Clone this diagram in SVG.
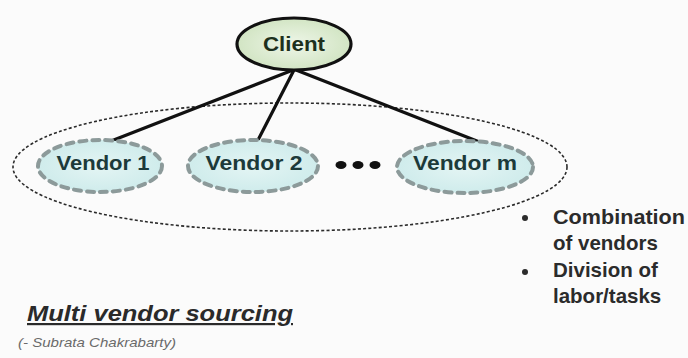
<svg xmlns="http://www.w3.org/2000/svg" width="688" height="358" viewBox="0 0 688 358">
  <defs>
    <radialGradient id="clientFill" cx="50%" cy="50%" r="55%">
      <stop offset="0" stop-color="#eef6e8"/>
      <stop offset="1" stop-color="#cfe3c0"/>
    </radialGradient>
    <radialGradient id="vendorFill" cx="50%" cy="50%" r="60%">
      <stop offset="0" stop-color="#e4f5f4"/>
      <stop offset="1" stop-color="#cbeaea"/>
    </radialGradient>
  </defs>
  <style>
    .bg { fill: #fbfbfb; }
    .group-ring { fill: none; stroke: #2a2a2a; stroke-width: 1.6; stroke-dasharray: 3 2.2; }
    .link { stroke: #111; stroke-width: 3.2; stroke-linecap: round; }
    .client-shape { fill: url(#clientFill); stroke: #111; stroke-width: 3.2; }
    .vendor-shape { fill: url(#vendorFill); stroke: #8c9a9a; stroke-width: 4; stroke-dasharray: 7 6; stroke-linecap: round; }
    .node-label { font-family: "Liberation Sans", Arial, sans-serif; font-weight: bold; font-size: 20px; text-anchor: middle; }
    .client-label { fill: #1d301d; font-size: 21px; }
    .vendor-label { fill: #1c3a3a; }
    .more { fill: #111; }
    .note { font-family: "Liberation Sans", Arial, sans-serif; font-weight: bold; font-size: 20.5px; fill: #2b2b2b; }
    .bullet { fill: #2b2b2b; }
    .title { font-family: "Liberation Sans", Arial, sans-serif; font-weight: bold; font-style: italic; font-size: 22px; fill: #2a2a2a; text-decoration: underline; }
    .credit { font-family: "Liberation Sans", Arial, sans-serif; font-style: italic; font-size: 13px; fill: #6a6a6a; }
  </style>

  <rect class="bg" x="0" y="0" width="688" height="358"/>

  <!-- dotted ring grouping the vendors -->
  <ellipse class="group-ring" cx="290" cy="167" rx="277" ry="64"/>

  <!-- connectors from the client to each vendor -->
  <g id="connectors">
    <line class="link" x1="293" y1="70" x2="106" y2="143"/>
    <line class="link" x1="294" y1="70" x2="257" y2="142"/>
    <line class="link" x1="296" y1="70" x2="482" y2="143"/>
  </g>

  <g id="client">
    <ellipse class="client-shape" cx="294" cy="44" rx="57" ry="26"/>
    <text class="node-label client-label" x="294" y="51" textLength="62" lengthAdjust="spacingAndGlyphs">Client</text>
  </g>

  <g id="vendor-1">
    <ellipse class="vendor-shape" cx="100" cy="166" rx="62" ry="26"/>
    <text class="node-label vendor-label" x="103" y="170" textLength="93" lengthAdjust="spacingAndGlyphs">Vendor 1</text>
  </g>

  <g id="vendor-2">
    <ellipse class="vendor-shape" cx="253" cy="166" rx="65" ry="26"/>
    <text class="node-label vendor-label" x="254" y="170" textLength="97" lengthAdjust="spacingAndGlyphs">Vendor 2</text>
  </g>

  <g id="ellipsis">
    <ellipse class="more" cx="341" cy="165" rx="5.5" ry="4"/>
    <ellipse class="more" cx="358" cy="165" rx="5.5" ry="4"/>
    <ellipse class="more" cx="375" cy="165" rx="5.5" ry="4"/>
  </g>

  <g id="vendor-m">
    <ellipse class="vendor-shape" cx="465" cy="167" rx="68" ry="26"/>
    <text class="node-label vendor-label" x="465" y="170" textLength="104" lengthAdjust="spacingAndGlyphs">Vendor m</text>
  </g>

  <!-- bullet notes -->
  <g id="notes">
    <circle class="bullet" cx="525" cy="218" r="3"/>
    <text class="note" x="553" y="224" textLength="132" lengthAdjust="spacingAndGlyphs">Combination</text>
    <text class="note" x="553" y="250">of vendors</text>
    <circle class="bullet" cx="525" cy="272" r="3"/>
    <text class="note" x="553" y="277">Division of</text>
    <text class="note" x="553" y="303">labor/tasks</text>
  </g>

  <!-- caption -->
  <text class="title" x="27" y="321" textLength="266" lengthAdjust="spacingAndGlyphs">Multi vendor sourcing</text>
  <text class="credit" x="18" y="347" textLength="158" lengthAdjust="spacingAndGlyphs">(- Subrata Chakrabarty)</text>
</svg>
